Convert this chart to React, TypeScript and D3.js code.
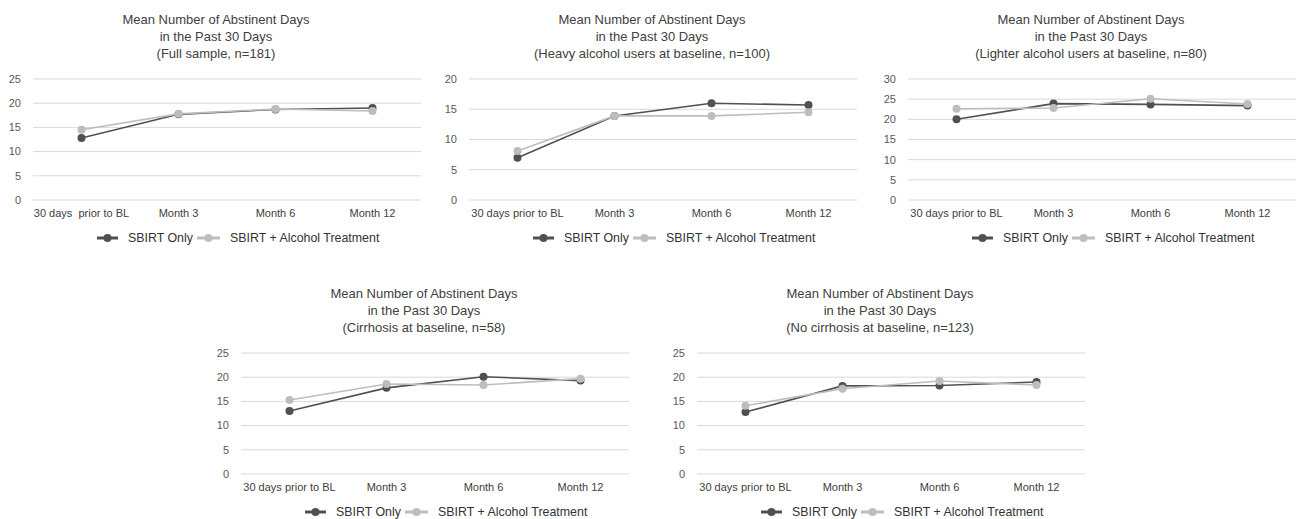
import React from 'react'
import * as d3 from 'd3'

const categories = ['30 days prior to BL', 'Month 3', 'Month 6', 'Month 12']
// the first panel prints its first category with a wider gap
const firstLabelPanel1 = '30 days  prior to BL'
const seriesNames = ['SBIRT Only', 'SBIRT + Alcohol Treatment']

const titleTop = 'Mean Number of Abstinent Days'
const titleMid = 'in the Past 30 Days'
const subtitles = [
  '(Full sample, n=181)',
  '(Heavy alcohol users at baseline, n=100)',
  '(Lighter alcohol users at baseline, n=80)',
  '(Cirrhosis at baseline, n=58)',
  '(No cirrhosis at baseline, n=123)'
]

const yMax = [25, 20, 30, 25, 25]

const fullOnly = [12.8, 17.7, 18.7, 19.0]
const fullTreat = [14.5, 17.8, 18.8, 18.4]
const heavyOnly = [7.0, 13.9, 16.0, 15.7]
const heavyTreat = [8.1, 13.9, 13.9, 14.5]
const lightOnly = [20.0, 23.9, 23.7, 23.4]
const lightTreat = [22.6, 22.8, 25.1, 23.8]
const cirrOnly = [13.0, 17.8, 20.1, 19.3]
const cirrTreat = [15.3, 18.6, 18.4, 19.7]
const noCirrOnly = [12.8, 18.2, 18.3, 19.0]
const noCirrTreat = [14.1, 17.6, 19.2, 18.4]

const onlyValues = [fullOnly, heavyOnly, lightOnly, cirrOnly, noCirrOnly]
const treatValues = [fullTreat, heavyTreat, lightTreat, cirrTreat, noCirrTreat]

// plot areas (left, top) of each panel
const layout = [
  { left: 33, top: 79 },
  { left: 469, top: 79 },
  { left: 908, top: 79 },
  { left: 241, top: 353 },
  { left: 697, top: 353 }
]

const plotW = 388
const plotH = 121
const colors = ['#505050', '#bdbdbd']
const font = '"Liberation Sans", Arial, sans-serif'

function Panel({ idx }: { idx: number }) {
  const { left, top } = layout[idx]
  const x = d3.scaleBand().domain(categories).range([0, plotW]).padding(0)
  const y = d3.scaleLinear().domain([0, yMax[idx]]).range([plotH, 0])
  const ticks = d3.range(0, yMax[idx] + 1, 5)
  const cx = (c: string) => (x(c) as number) + x.bandwidth() / 2
  const line = d3
    .line<number>()
    .x((d, i) => cx(categories[i]))
    .y(d => y(d))
  const series = [onlyValues[idx], treatValues[idx]]

  return (
    <g transform={`translate(${left},${top})`}>
      <g fontFamily={font} fontSize={13} fill='#404040' textAnchor='middle'>
        <text x={plotW / 2 - 11} y={-55}>{titleTop}</text>
        <text x={plotW / 2 - 11} y={-38}>{titleMid}</text>
        <text x={plotW / 2 - 11} y={-21}>{subtitles[idx]}</text>
      </g>
      {ticks.map(t => (
        <g key={t}>
          <line x1={0} x2={plotW} y1={y(t)} y2={y(t)} stroke='#d9d9d9' strokeWidth={1} />
          <text
            x={-12}
            y={y(t)}
            dy='.35em'
            textAnchor='end'
            fontFamily={font}
            fontSize={11}
            fill='#595959'>
            {t}
          </text>
        </g>
      ))}
      {categories.map((c, i) => (
        <text
          key={c}
          x={cx(c)}
          y={plotH + 17}
          textAnchor='middle'
          fontFamily={font}
          fontSize={11}
          fill='#404040'
          style={{ whiteSpace: 'pre' }}>
          {idx === 0 && i === 0 ? firstLabelPanel1 : c}
        </text>
      ))}
      {series.map((vals, si) => (
        <g key={si}>
          <path d={line(vals) || ''} fill='none' stroke={colors[si]} strokeWidth={1.6} />
          {vals.map((v, i) => (
            <circle key={i} cx={cx(categories[i])} cy={y(v)} r={4} fill={colors[si]} />
          ))}
        </g>
      ))}
      <g transform={`translate(64,${plotH + 38})`} fontFamily={font} fontSize={12.4} fill='#333'>
        <line x1={0} x2={21} y1={0} y2={0} stroke={colors[0]} strokeWidth={3} />
        <circle cx={10.5} cy={0} r={4} fill={colors[0]} />
        <text x={31} y={0} dy='.35em'>{seriesNames[0]}</text>
        <line x1={100} x2={123} y1={0} y2={0} stroke={colors[1]} strokeWidth={3} />
        <circle cx={111.5} cy={0} r={4} fill={colors[1]} />
        <text x={133} y={0} dy='.35em'>{seriesNames[1]}</text>
      </g>
    </g>
  )
}

export default function App() {
  return (
    <svg
      width={1297}
      height={519}
      style={{ position: 'absolute', left: 0, top: 0, background: '#fff' }}>
      {layout.map((_, i) => (
        <Panel key={i} idx={i} />
      ))}
    </svg>
  )
}
